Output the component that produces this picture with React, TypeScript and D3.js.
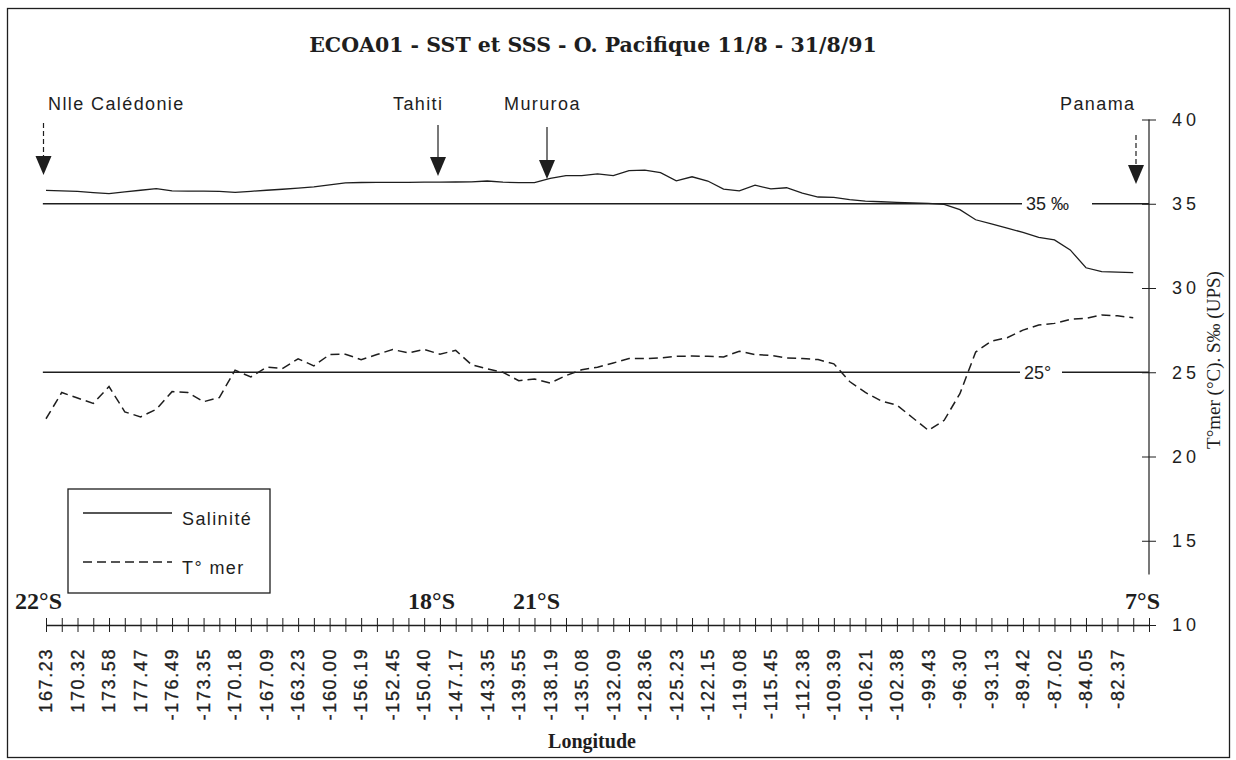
import { useEffect, useRef } from 'react'
import * as d3 from 'd3'

// longitude labels, shown on every second station
const longitudes = [
  '167.23', '170.32', '173.58', '177.47', '-176.49', '-173.35', '-170.18',
  '-167.09', '-163.23', '-160.00', '-156.19', '-152.45', '-150.40', '-147.17',
  '-143.35', '-139.55', '-138.19', '-135.08', '-132.09', '-128.36', '-125.23',
  '-122.15', '-119.08', '-115.45', '-112.38', '-109.39', '-106.21', '-102.38',
  '-99.43', '-96.30', '-93.13', '-89.42', '-87.02', '-84.05', '-82.37',
]

// salinity (UPS) per station
const salinite = [
  35.79, 35.77, 35.74, 35.66, 35.6, 35.7, 35.8, 35.9, 35.77, 35.75,
  35.75, 35.74, 35.68, 35.74, 35.8, 35.86, 35.93, 36.0, 36.12, 36.24,
  36.26, 36.27, 36.27, 36.27, 36.28, 36.28, 36.29, 36.3, 36.35, 36.28,
  36.25, 36.25, 36.5, 36.67, 36.67, 36.77, 36.67, 36.97, 37.0, 36.85,
  36.36, 36.6, 36.35, 35.87, 35.76, 36.1, 35.88, 35.95, 35.63, 35.4,
  35.38, 35.24, 35.15, 35.12, 35.08, 35.05, 35.02, 34.96, 34.65, 34.05,
  33.8, 33.55, 33.3, 33.0, 32.85, 32.26, 31.2, 30.97, 30.94, 30.91,
]

// sea temperature (°C) per station
const tMer = [
  22.24, 23.8, 23.47, 23.15, 24.15, 22.65, 22.35, 22.8, 23.85, 23.8,
  23.25, 23.5, 25.12, 24.72, 25.3, 25.22, 25.8, 25.38, 26.05, 26.07,
  25.75, 26.05, 26.35, 26.15, 26.35, 26.07, 26.3, 25.45, 25.2, 25.0,
  24.5, 24.6, 24.36, 24.8, 25.15, 25.3, 25.55, 25.81, 25.81, 25.85,
  25.95, 25.96, 25.95, 25.91, 26.25, 26.05, 26.0, 25.85, 25.81, 25.75,
  25.5, 24.45, 23.8, 23.3, 23.05, 22.3, 21.55, 22.15, 23.73, 26.2,
  26.85, 27.05, 27.5, 27.8, 27.9, 28.14, 28.2, 28.4, 28.35, 28.23,
]

const yTicks = [10, 15, 20, 25, 30, 35, 40]

// ports of call: station index, arrow dashed or not
const escales = [
  { nom: 'Nlle  Calédonie', idx: 0, pointille: true },
  { nom: 'Tahiti', idx: 25, pointille: false },
  { nom: 'Mururoa', idx: 32, pointille: false },
  { nom: 'Panama', idx: 69, pointille: true },
]

const latitudes = [
  { txt: '22°S', x: 62 },
  { txt: '18°S', x: 455 },
  { txt: '21°S', x: 560 },
  { txt: '7°S', x: 1160 },
]

const title = 'ECOA01 - SST et SSS - O. Pacifique 11/8 - 31/8/91'

export default function App() {
  const ref = useRef<SVGSVGElement>(null)

  useEffect(() => {
    const svg = d3.select(ref.current)
    svg.selectAll('*').remove()
    const ink = '#1e1e1e'
    const sans = '"Liberation Sans", Arial, sans-serif'
    const serif = '"Liberation Serif", "Times New Roman", serif'

    const x = d3.scaleLinear().domain([0, 70]).range([46, 1149])
    const y = d3.scaleLinear().domain([10, 40]).range([625, 119.5])

    // frame
    svg
      .append('rect')
      .attr('x', 7.5)
      .attr('y', 8.5)
      .attr('width', 1222)
      .attr('height', 749)
      .attr('fill', 'none')
      .attr('stroke', ink)
      .attr('stroke-width', 1.3)

    svg
      .append('text')
      .attr('x', 593)
      .attr('y', 52)
      .attr('text-anchor', 'middle')
      .attr('font-family', '"DejaVu Serif", serif')
      .attr('font-weight', 'bold')
      .attr('font-size', 20.5)
      .attr('fill', ink)
      .text(title)

    // reference lines 35 and 25
    const flat = (v: number) =>
      d3.line<number>().x((i) => x(i)).y(() => y(v))([-0.2, 70])
    ;[35, 25].forEach((v) => {
      svg
        .append('path')
        .attr('d', flat(v))
        .attr('fill', 'none')
        .attr('stroke', ink)
        .attr('stroke-width', 1.5)
    })

    // x axis
    const gx = svg
      .append('g')
      .attr('transform', `translate(0,${y(10)})`)
      .call(
        d3
          .axisBottom(x)
          .tickValues(d3.range(71))
          .tickSizeOuter(0)
          .tickFormat(() => '')
      )
    gx.select('.domain').attr('stroke', ink).attr('stroke-width', 1.5)
    gx.selectAll('.tick line').attr('y1', -7).attr('y2', 7).attr('stroke', ink)

    gx.selectAll('.lab')
      .data(longitudes)
      .join('text')
      .attr('dy', '0.35em')
      .attr('text-anchor', 'end')
      .attr('font-family', sans)
      .attr('font-size', 18)
      .attr('letter-spacing', 1.6)
      .attr('fill', ink)
      .attr('stroke', ink)
      .attr('stroke-width', 0.35)
      .attr('transform', (_, k) => `translate(${x(k * 2)},${648 - y(10)}) rotate(-90)`)
      .text((d) => d)

    svg
      .append('text')
      .attr('x', 592)
      .attr('y', 748)
      .attr('text-anchor', 'middle')
      .attr('font-family', serif)
      .attr('font-weight', 'bold')
      .attr('font-size', 20)
      .attr('fill', ink)
      .text('Longitude')

    // right axis
    svg
      .append('line')
      .attr('x1', x(70))
      .attr('x2', x(70))
      .attr('y1', y(40))
      .attr('y2', y(13))
      .attr('stroke', ink)
      .attr('stroke-width', 1.2)
    const gy = svg
      .append('g')
      .attr('transform', `translate(${x(70)},0)`)
      .call(d3.axisRight(y).tickValues(yTicks).tickSize(7).tickPadding(16))
    gy.select('.domain').remove()
    gy.selectAll('.tick line').attr('x1', -7).attr('stroke', ink)
    gy.selectAll('.tick text')
      .attr('font-family', sans)
      .attr('font-size', 18)
      .attr('letter-spacing', 4)
      .attr('fill', ink)

    svg
      .append('text')
      .attr('transform', `translate(1213,360) rotate(-90)`)
      .attr('dy', '0.35em')
      .attr('text-anchor', 'middle')
      .attr('font-family', serif)
      .attr('font-size', 19)
      .attr('fill', ink)
      .text('T°mer (°C). S‰ (UPS)')

    // labels on the reference lines
    const refLabel = (txt: string, x0: number, x1: number, v: number) => {
      svg
        .append('rect')
        .attr('x', x0)
        .attr('y', y(v) - 8)
        .attr('width', x1 - x0)
        .attr('height', 16)
        .attr('fill', '#fff')
      svg
        .append('text')
        .attr('x', x0 + 4)
        .attr('y', y(v))
        .attr('dy', '0.35em')
        .attr('font-family', sans)
        .attr('font-size', 18)
        .attr('fill', ink)
        .text(txt)
    }
    refLabel('35 ‰', 1022, 1092, 35)
    refLabel('25°', 1020, 1062, 25)

    // data lines
    const line = d3
      .line<number>()
      .x((_, i) => x(i))
      .y((d) => y(d))
    svg
      .append('path')
      .attr('d', line(salinite))
      .attr('fill', 'none')
      .attr('stroke', ink)
      .attr('stroke-width', 1.3)
    svg
      .append('path')
      .attr('d', line(tMer))
      .attr('fill', 'none')
      .attr('stroke', ink)
      .attr('stroke-width', 1.5)
      .attr('stroke-dasharray', '9,5')

    // arrows for ports of call
    escales.forEach((e, k) => {
      const ax = [43.5, 438, 547, 1136][k]
      const top = [123, 125, 127, 135][k]
      const tip = [175, 176, 179, 184][k]
      svg
        .append('line')
        .attr('x1', ax)
        .attr('x2', ax)
        .attr('y1', top)
        .attr('y2', tip - 16)
        .attr('stroke', ink)
        .attr('stroke-width', 1.2)
        .attr('stroke-dasharray', e.pointille ? '5,3' : null)
      svg
        .append('path')
        .attr('d', `M${ax - 8},${tip - 19}L${ax + 8},${tip - 19}L${ax},${tip}Z`)
        .attr('fill', ink)
    })
    const escX = [48, 393, 504, 1060]
    svg
      .selectAll('.esc')
      .data(escales)
      .join('text')
      .attr('x', (_, k) => escX[k])
      .attr('y', 110)
      .attr('font-family', sans)
      .attr('font-size', 18)
      .attr('letter-spacing', 1.4)
      .attr('fill', ink)
      .text((d) => d.nom)

    // latitude labels
    svg
      .append('rect')
      .attr('x', 1120)
      .attr('y', y(13) + 2)
      .attr('width', 42)
      .attr('height', 40)
      .attr('fill', '#fff')
    svg
      .selectAll('.lat')
      .data(latitudes)
      .join('text')
      .attr('x', (d) => d.x)
      .attr('y', 609)
      .attr('text-anchor', 'end')
      .attr('font-family', serif)
      .attr('font-weight', 'bold')
      .attr('font-size', 24)
      .attr('fill', ink)
      .text((d) => d.txt)

    // legend
    const lg = svg.append('g')
    lg.append('rect')
      .attr('x', 68)
      .attr('y', 489)
      .attr('width', 202)
      .attr('height', 104)
      .attr('fill', '#fff')
      .attr('stroke', ink)
      .attr('stroke-width', 1.3)
    ;[
      { txt: 'Salinité', yy: 513, dash: null },
      { txt: 'T° mer', yy: 562, dash: '9,5' },
    ].forEach((l) => {
      lg.append('line')
        .attr('x1', 83)
        .attr('x2', 172)
        .attr('y1', l.yy)
        .attr('y2', l.yy)
        .attr('stroke', ink)
        .attr('stroke-width', 1.3)
        .attr('stroke-dasharray', l.dash)
      lg.append('text')
        .attr('x', 182)
        .attr('y', l.yy + 6)
        .attr('dy', '0.35em')
        .attr('font-family', sans)
        .attr('font-size', 18)
        .attr('letter-spacing', 1.4)
        .attr('fill', ink)
        .text(l.txt)
    })
  }, [])

  return (
    <svg
      ref={ref}
      width={1236}
      height={760}
      style={{ position: 'absolute', left: 0, top: 0, background: '#fff' }}
    />
  )
}
